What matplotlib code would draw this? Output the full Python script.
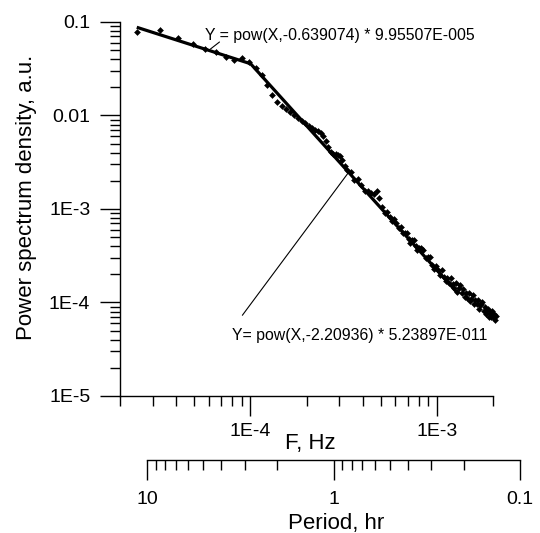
import matplotlib
matplotlib.use('Agg')
import matplotlib.pyplot as plt
from matplotlib.ticker import FixedLocator, FixedFormatter, LogLocator, NullFormatter
import numpy as np

plt.rcParams['font.family'] = ['Liberation Sans', 'DejaVu Sans']

# ---- data ----
freq_hz = [
    2.46e-5, 3.28e-5, 4.10e-5, 4.92e-5, 5.74e-5, 6.56e-5, 7.38e-5, 8.20e-5, 9.02e-5, 9.84e-5,
    1.066e-4, 1.148e-4, 1.230e-4, 1.312e-4, 1.394e-4, 1.476e-4, 1.558e-4, 1.640e-4, 1.722e-4, 1.804e-4,
    1.886e-4, 1.968e-4, 2.050e-4, 2.132e-4, 2.214e-4, 2.296e-4, 2.378e-4, 2.460e-4, 2.542e-4, 2.624e-4,
    2.706e-4, 2.788e-4, 2.870e-4, 2.952e-4, 3.034e-4, 3.116e-4, 3.198e-4, 3.280e-4,
    3.444e-4, 3.608e-4, 3.772e-4, 3.936e-4, 4.100e-4, 4.264e-4, 4.428e-4, 4.592e-4, 4.756e-4, 4.920e-4,
    5.084e-4, 5.248e-4, 5.412e-4, 5.576e-4, 5.740e-4, 5.904e-4, 6.068e-4, 6.232e-4, 6.396e-4, 6.560e-4,
    6.724e-4, 6.888e-4, 7.052e-4, 7.216e-4, 7.380e-4, 7.544e-4, 7.708e-4, 7.872e-4, 8.036e-4, 8.200e-4,
    8.446e-4, 8.692e-4, 8.938e-4, 9.184e-4, 9.430e-4, 9.676e-4, 9.922e-4, 1.0168e-3, 1.0414e-3, 1.0660e-3,
    1.0906e-3, 1.1152e-3, 1.1398e-3, 1.1644e-3, 1.1890e-3, 1.2136e-3, 1.2382e-3, 1.2628e-3, 1.2874e-3, 1.3120e-3,
    1.3366e-3, 1.3612e-3, 1.3858e-3, 1.4104e-3, 1.4350e-3, 1.4596e-3, 1.4842e-3, 1.5088e-3, 1.5334e-3, 1.5580e-3,
    1.5826e-3, 1.6072e-3, 1.6318e-3, 1.6564e-3, 1.6810e-3, 1.7056e-3, 1.7302e-3, 1.7548e-3, 1.7794e-3, 1.8040e-3,
    1.8286e-3, 1.8532e-3, 1.8778e-3, 1.9024e-3, 1.9270e-3, 1.9516e-3, 1.9762e-3, 2.0008e-3, 2.0254e-3, 2.0500e-3,
    2.0746e-3,
]

psd = [
    0.078, 0.082, 0.068, 0.058, 0.052, 0.048, 0.042, 0.039, 0.041, 0.037,
    3.20e-2, 2.72e-2, 2.12e-2, 1.66e-2, 1.39e-2, 1.25e-2, 1.17e-2, 1.09e-2, 1.01e-2, 9.32e-3,
    8.65e-3, 8.28e-3, 7.74e-3, 7.28e-3, 7.05e-3, 6.83e-3, 6.48e-3, 6.01e-3, 5.31e-3, 4.60e-3,
    4.10e-3, 3.92e-3, 3.87e-3, 3.82e-3, 3.69e-3, 3.31e-3, 2.90e-3, 2.61e-3,
    2.46e-3, 2.06e-3, 2.07e-3, 1.79e-3, 1.56e-3, 1.54e-3, 1.48e-3, 1.44e-3, 1.54e-3, 1.30e-3,
    1.04e-3, 9.02e-4, 9.30e-4, 8.29e-4, 7.40e-4, 7.86e-4, 7.05e-4, 6.32e-4, 6.43e-4, 5.51e-4,
    5.48e-4, 5.59e-4, 4.81e-4, 4.35e-4, 4.69e-4, 4.69e-4, 4.05e-4, 3.68e-4, 3.79e-4, 3.81e-4,
    3.63e-4, 2.96e-4, 3.05e-4, 3.08e-4, 2.53e-4, 2.29e-4, 2.48e-4, 2.25e-4, 1.99e-4, 2.22e-4,
    1.88e-4, 1.68e-4, 1.85e-4, 1.63e-4, 1.85e-4, 1.59e-4, 1.44e-4, 1.60e-4, 1.29e-4, 1.44e-4,
    1.53e-4, 1.26e-4, 1.38e-4, 1.14e-4, 1.25e-4, 1.13e-4, 1.27e-4, 1.05e-4, 1.10e-4, 1.21e-4,
    9.55e-5, 1.07e-4, 9.74e-5, 1.07e-4, 8.45e-5, 9.48e-5, 9.69e-5, 1.02e-4, 8.10e-5, 8.89e-5,
    7.57e-5, 8.33e-5, 8.55e-5, 6.97e-5, 7.67e-5, 7.01e-5, 8.10e-5, 6.95e-5, 7.50e-5, 6.43e-5,
    7.11e-5,
]

# power-law fits printed on the chart
fit_exponent = [-0.639074, -2.20936]
fit_coeff = [9.95507e-5, 5.23897e-11]
fit_start = [2.46e-5, 1.0e-4]
fit_end = [1.0e-4, 1.3e-3]
fit_labels = ['Y = pow(X,-0.639074) * 9.95507E-005',
              'Y= pow(X,-2.20936) * 5.23897E-011']

ytick_vals = [1e-5, 1e-4, 1e-3, 1e-2, 1e-1]
ytick_labels = ['1E-5', '1E-4', '1E-3', '0.01', '0.1']
xtick_vals = [1e-4, 1e-3]
xtick_labels = ['1E-4', '1E-3']
period_tick_vals = [10, 1, 0.1]
period_tick_labels = ['10', '1', '0.1']

# ---- layout (annotation placement in data coordinates) ----
label_pos = [(5.74e-5, 0.0726), (8.01e-5, 4.46e-5)]
leader_from = [(6.83e-5, 0.0611), (9.06e-5, 7.3e-5)]
leader_to = [(6.11e-5, 0.0514), (3.34e-4, 2.42e-3)]

W, H = 540, 533
fig = plt.figure(figsize=(W / 100, H / 100), dpi=100)
ax = fig.add_axes([120 / W, 137 / H, 373 / W, 374 / H])
ax.set_xscale('log')
ax.set_yscale('log')
ax.set_xlim(2e-5, 2e-3)
ax.set_ylim(1e-5, 1e-1)

ax.plot(freq_hz, psd, ls='none', marker='D', ms=3.0, color='black',
        mec='black', mew=0.4, clip_on=False, zorder=3)

for e, c, s, t in zip(fit_exponent, fit_coeff, fit_start, fit_end):
    xs = np.array([s, t])
    ax.plot(xs, c * xs ** e, color='black', lw=2.3, solid_capstyle='butt', zorder=4)

for txt, pos, a, b in zip(fit_labels, label_pos, leader_from, leader_to):
    ax.text(pos[0], pos[1], txt, fontsize=11.4, ha='left', va='center', color='black')
    ax.annotate('', xy=b, xytext=a,
                arrowprops=dict(arrowstyle='-', lw=0.8, color='black',
                                shrinkA=0, shrinkB=0))

for side in ('top', 'right'):
    ax.spines[side].set_visible(False)
for side in ('left', 'bottom'):
    ax.spines[side].set_linewidth(1.0)

ax.yaxis.set_major_locator(FixedLocator(ytick_vals))
ax.yaxis.set_major_formatter(FixedFormatter(ytick_labels))
ax.xaxis.set_major_locator(FixedLocator(xtick_vals))
ax.xaxis.set_major_formatter(FixedFormatter(xtick_labels))
for axis in (ax.xaxis, ax.yaxis):
    axis.set_minor_locator(LogLocator(base=10, subs=np.arange(2, 10), numticks=30))
    axis.set_minor_formatter(NullFormatter())
ax.tick_params(which='major', direction='out', length=14.4, width=1.0, labelsize=14)
ax.tick_params(axis='y', which='major', pad=7)
ax.tick_params(axis='x', which='major', pad=5)
ax.tick_params(which='minor', direction='out', length=7.2, width=1.0)

ax.set_xlabel('F, Hz', fontsize=16)
ax.xaxis.set_label_coords(310 / W, (H - 443) / H, transform=fig.transFigure)
ax.xaxis.label.set_verticalalignment('center')
ax.set_ylabel('Power spectrum density, a.u.', fontsize=16)
ax.yaxis.set_label_coords(27 / W, (H - 197) / H, transform=fig.transFigure)
ax.yaxis.label.set_verticalalignment('center')

# period axis
pax = fig.add_axes([147 / W, 73 / H, 373 / W, 0.0001])
pax.set_xscale('log')
pax.set_xlim(10, 0.1)
pax.set_yticks([])
pax.patch.set_visible(False)
for side in ('top', 'left', 'right'):
    pax.spines[side].set_visible(False)
pax.spines['bottom'].set_linewidth(1.0)
pax.xaxis.set_major_locator(FixedLocator(period_tick_vals))
pax.xaxis.set_major_formatter(FixedFormatter(period_tick_labels))
pax.xaxis.set_minor_locator(LogLocator(base=10, subs=np.arange(2, 10), numticks=30))
pax.xaxis.set_minor_formatter(NullFormatter())
pax.tick_params(which='major', direction='out', length=14.4, width=1.0, labelsize=14, pad=8)
pax.tick_params(which='minor', direction='out', length=7.2, width=1.0)
pax.set_xlabel('Period, hr', fontsize=16)
pax.xaxis.set_label_coords(336 / W, (H - 524) / H, transform=fig.transFigure)
pax.xaxis.label.set_verticalalignment('center')

fig.savefig('out.png', dpi=100, facecolor='white')
